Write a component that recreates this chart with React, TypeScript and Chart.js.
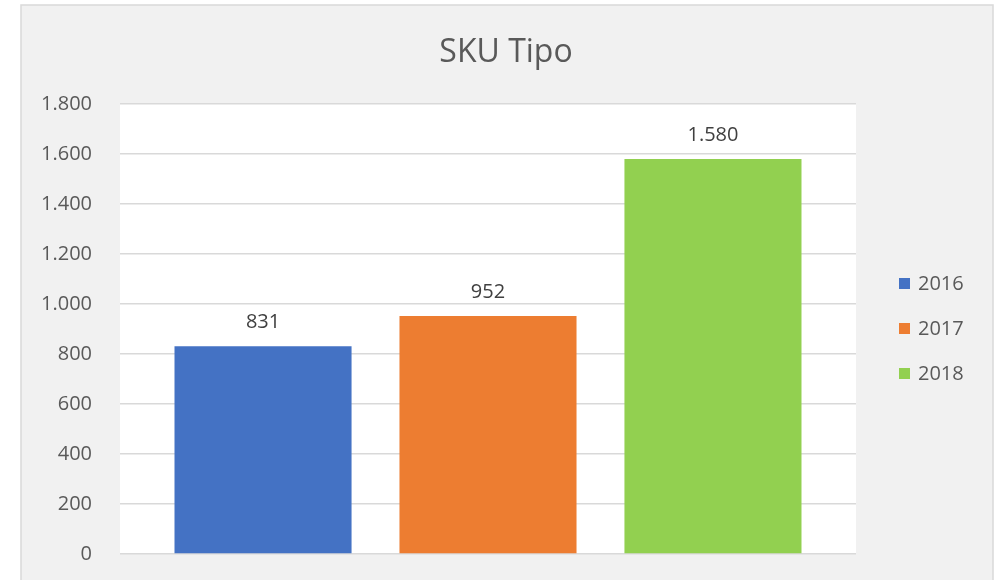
import React, { useEffect, useRef } from "react";
import { Chart, registerables } from "chart.js";

Chart.register(...registerables);

const categories = [""];
const seriesLabels = ["2016", "2017", "2018"];
const values2016 = [831];
const values2017 = [952];
const values2018 = [1580];
const seriesColors = ["#4472C4", "#ED7D31", "#92D050"];
const yMin = 0;
const yMax = 1800;
const yStep = 200;
const titleText = "SKU Tipo";

const FONT = "'Open Sans', 'Liberation Sans', sans-serif";

const fmt = (n: number) => String(n).replace(/\B(?=(\d{3})+(?!\d))/g, ".");

const framePlugin = {
  id: "frame",
  beforeDraw(chart: any) {
    const { ctx, width, height, chartArea } = chart;
    ctx.save();
    ctx.fillStyle = "#ffffff";
    ctx.fillRect(0, 0, width, height);
    ctx.fillStyle = "#f1f1f1";
    ctx.fillRect(21, 5, 972, height);
    ctx.strokeStyle = "#d9d9d9";
    ctx.lineWidth = 1.5;
    ctx.strokeRect(21, 5, 972, height + 10);
    ctx.fillStyle = "#ffffff";
    ctx.fillRect(chartArea.left, chartArea.top, chartArea.right - chartArea.left, chartArea.bottom - chartArea.top);
    ctx.restore();
  },
};

const titlePlugin = {
  id: "customTitle",
  afterDraw(chart: any) {
    const { ctx } = chart;
    ctx.save();
    ctx.font = `32px ${FONT}`;
    ctx.fillStyle = "#595959";
    ctx.textAlign = "center";
    ctx.textBaseline = "alphabetic";
    ctx.fillText(titleText, 506, 62);
    ctx.restore();
  },
};

const labelsPlugin = {
  id: "valueLabels",
  afterDatasetsDraw(chart: any) {
    const { ctx } = chart;
    ctx.save();
    ctx.font = `20px ${FONT}`;
    ctx.fillStyle = "#404040";
    ctx.textAlign = "center";
    ctx.textBaseline = "middle";
    chart.data.datasets.forEach((ds: any, i: number) => {
      const meta = chart.getDatasetMeta(i);
      meta.data.forEach((bar: any, j: number) => {
        ctx.fillText(fmt(ds.data[j]), bar.x, bar.y - 24);
      });
    });
    ctx.restore();
  },
};

const legendPlugin = {
  id: "customLegend",
  afterDraw(chart: any) {
    const { ctx, chartArea } = chart;
    const cy = (chartArea.top + chartArea.bottom) / 2;
    const gap = 45;
    const n = chart.data.datasets.length;
    ctx.save();
    ctx.font = `20px ${FONT}`;
    ctx.textAlign = "left";
    ctx.textBaseline = "middle";
    chart.data.datasets.forEach((ds: any, i: number) => {
      const y = cy + (i - (n - 1) / 2) * gap;
      ctx.fillStyle = ds.backgroundColor;
      ctx.fillRect(899, y - 6, 11, 11);
      ctx.fillStyle = "#595959";
      ctx.fillText(ds.label, 918, y);
    });
    ctx.restore();
  },
};

export default function App() {
  const ref = useRef<HTMLCanvasElement | null>(null);

  useEffect(() => {
    if (!ref.current) return;
    const allSeries = [values2016, values2017, values2018];
    const chart = new Chart(ref.current, {
      type: "bar",
      data: {
        labels: categories,
        datasets: seriesLabels.map((label, i) => ({
          label,
          data: allSeries[i],
          backgroundColor: seriesColors[i],
          borderWidth: 0,
          categoryPercentage: 0.917,
          barPercentage: 0.787,
        })),
      },
      options: {
        animation: false,
        responsive: false,
        maintainAspectRatio: false,
        layout: { padding: { left: 0, right: 144, top: 104, bottom: 26 } },
        plugins: {
          legend: { display: false },
          tooltip: { enabled: false },
          title: { display: false },
        },
        scales: {
          x: { display: false },
          y: {
            min: yMin,
            max: yMax,
            afterFit(scale: any) {
              scale.width = 120;
              scale.paddingTop = 0;
              scale.paddingBottom = 0;
            },
            ticks: {
              stepSize: yStep,
              padding: 28,
              color: "#595959",
              font: { family: FONT, size: 20 },
              callback: (v: any) => fmt(Number(v)),
            },
            grid: { color: "#d9d9d9", lineWidth: 1.5, drawTicks: false },
            border: { display: false },
          },
        },
      },
      plugins: [framePlugin, labelsPlugin, legendPlugin, titlePlugin],
    });
    return () => chart.destroy();
  }, []);

  return (
    <div style={{ position: "fixed", left: 0, top: 0, width: 1000, height: 580 }}>
      <canvas ref={ref} width={1000} height={580} style={{ display: "block" }} />
    </div>
  );
}
